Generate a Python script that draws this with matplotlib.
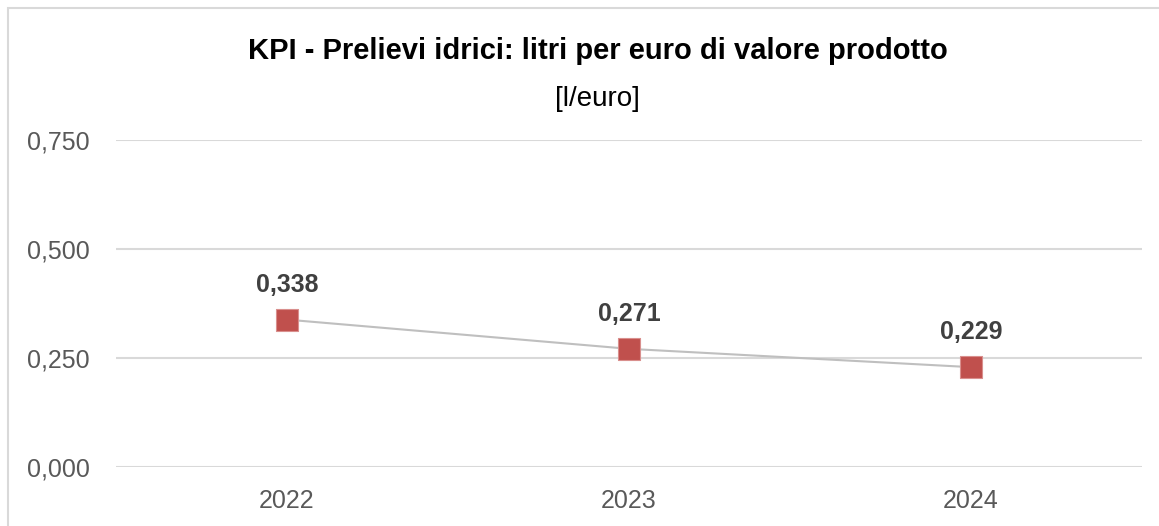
import matplotlib
matplotlib.use("Agg")
import matplotlib.pyplot as plt
from matplotlib.patches import Rectangle
from matplotlib.ticker import FuncFormatter

years = ["2022", "2023", "2024"]
values = [0.338, 0.271, 0.229]
y_ticks = [0.0, 0.25, 0.5, 0.75]


def it_fmt(v, pos=None):
    return f"{v:.3f}".replace(".", ",")


plt.rcParams["font.family"] = ["Liberation Sans", "DejaVu Sans"]

fig = plt.figure(figsize=(11.59, 5.26), dpi=100)
ax = fig.add_axes([0.1001, 0.1122, 0.8852, 0.6216])

# chart frame (only top/left visible in the crop)
fig.patches.append(
    Rectangle((8 / 1159, -0.1), 1.2, 1 - 8 / 526 + 0.1, transform=fig.transFigure,
              fill=False, edgecolor="#d9d9d9", lw=1.5)
)

x = range(len(years))
ax.plot(x, values, color="#bfbfbf", lw=1.5, zorder=2)
ax.scatter(x, values, marker="s", s=260, color="#c0504d",
           edgecolors="#d98f8d", linewidths=0.8, zorder=3)

for i, v in zip(x, values):
    ax.annotate(it_fmt(v), (i, v), xytext=(0, 25), textcoords="offset points",
                ha="center", va="center", fontsize=18, fontweight="bold",
                color="#404040")

ax.set_xlim(-0.5, 2.5)
ax.set_ylim(0, 0.75)
ax.set_xticks(list(x))
ax.set_xticklabels(years)
ax.set_yticks(y_ticks)
ax.yaxis.set_major_formatter(FuncFormatter(it_fmt))
ax.tick_params(axis="both", length=0, labelsize=18, labelcolor="#595959")
ax.tick_params(axis="y", pad=19)
ax.tick_params(axis="x", pad=16)
ax.grid(axis="y", color="#d9d9d9", lw=1.5)
ax.set_axisbelow(True)
for s in ax.spines.values():
    s.set_visible(False)

fig.text(0.5155, 1 - 51 / 526, "KPI - Prelievi idrici: litri per euro di valore prodotto",
         ha="center", va="center", fontsize=21, fontweight="bold", color="#000000")
fig.text(0.5155, 1 - 99 / 526, "[l/euro]", ha="center", va="center", fontsize=20,
         color="#000000")

fig.savefig("out.png", dpi=100)
